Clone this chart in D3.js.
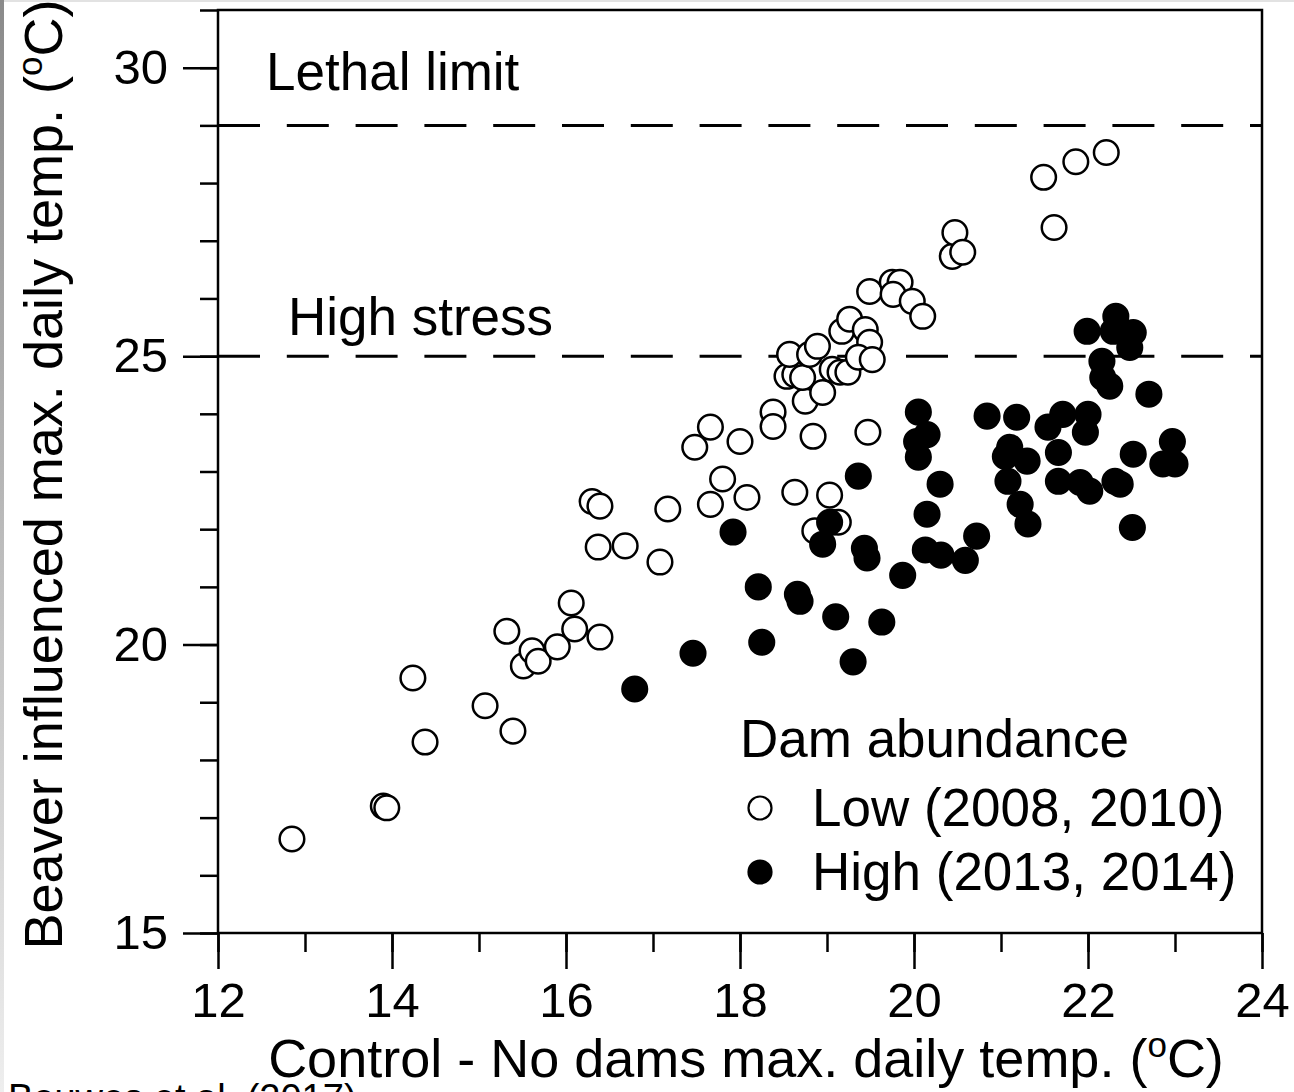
<!DOCTYPE html>
<html>
<head>
<meta charset="utf-8">
<script src="https://cdn.jsdelivr.net/npm/d3@7"></script>
<style>
  html, body { margin: 0; padding: 0; background: #fff; }
  svg { display: block; font-family: "Liberation Sans", Arial, Helvetica, sans-serif; }
</style>
</head>
<body>
<div id="chart"></div>
<script>
// Low dam abundance (2008, 2010): [control, beaver influenced]
const lowX = [12.85, 13.90, 13.94, 14.24, 14.38, 15.07, 15.39, 15.32, 15.51, 15.61, 15.68, 15.90, 16.06, 16.10, 16.39,
  16.30, 16.39, 16.37, 16.68, 17.08, 17.17, 17.48, 17.66, 17.66, 17.80, 18.00, 18.08, 18.38, 18.38, 18.84,
  18.63, 19.03, 18.86, 19.06, 19.13, 19.47, 18.75, 18.95, 18.54, 18.63, 18.72, 18.57, 18.80, 18.89, 19.06,
  19.15, 19.24, 19.17, 19.26, 19.44, 19.49, 19.36, 19.52, 19.49, 19.75, 19.84, 19.76, 19.98, 20.10, 20.44,
  20.47, 20.56, 21.49, 21.86, 22.21, 21.61];
const lowY = [16.63, 17.20, 17.17, 19.42, 18.31, 18.94, 18.50, 20.23, 19.63, 19.89, 19.71, 19.96, 20.72, 20.27, 20.13,
  22.48, 22.40, 21.69, 21.71, 21.43, 22.35, 23.42, 23.77, 22.43, 22.87, 23.52, 22.55, 24.03, 23.78, 23.61,
  22.64, 22.59, 21.97, 22.12, 22.12, 23.68, 24.22, 24.37, 24.65, 24.68, 24.63, 25.03, 25.03, 25.17, 24.77,
  24.72, 24.72, 25.43, 25.64, 25.46, 25.24, 24.98, 24.94, 26.12, 26.28, 26.28, 26.07, 25.95, 25.69, 26.73,
  27.14, 26.80, 28.10, 28.37, 28.53, 27.23];

// High dam abundance (2013, 2014)
const highX = [16.79, 17.46, 17.92, 18.21, 18.25, 18.66, 18.69, 19.10, 19.30, 19.63, 19.03, 18.95, 19.36, 19.43, 19.46,
  19.87, 20.05, 20.15, 20.03, 20.05, 20.30, 20.15, 20.13, 20.31, 20.59, 20.72, 20.84, 21.18, 21.54, 21.71,
  22.00, 21.97, 21.10, 21.05, 21.30, 21.08, 21.66, 21.22, 21.31, 21.66, 21.91, 22.02, 22.31, 22.37, 22.52,
  22.51, 22.97, 22.86, 23.00, 22.70, 21.99, 22.32, 22.29, 22.52, 22.48, 22.16, 22.17, 22.25];
const highY = [19.23, 19.85, 21.95, 21.00, 20.04, 20.87, 20.75, 20.48, 19.70, 20.39, 22.12, 21.74, 22.92, 21.67, 21.50,
  21.20, 24.03, 23.64, 23.52, 23.25, 22.78, 22.26, 21.64, 21.55, 21.46, 21.88, 23.96, 23.94, 23.77, 23.99,
  23.99, 23.68, 23.42, 23.26, 23.18, 22.83, 23.33, 22.43, 22.09, 22.83, 22.81, 22.66, 22.83, 22.78, 23.30,
  22.03, 23.52, 23.13, 23.13, 24.34, 25.43, 25.69, 25.43, 25.41, 25.15, 24.91, 24.63, 24.48];

const xMajor = [12, 14, 16, 18, 20, 22, 24];
const yMajor = [15, 20, 25, 30];
const thresholds = [29, 25];
const thresholdLabels = ["Lethal limit", "High stress"];
const legendLabels = ["Low (2008, 2010)", "High (2013, 2014)"];

const width = 1294, height = 1092;
const margin = {top: 10, right: 32, bottom: 159, left: 218};

const svg = d3.select("#chart").append("svg")
  .attr("width", width)
  .attr("height", height);

// screenshot edges
const grad = svg.append("defs").append("linearGradient")
  .attr("id", "edge").attr("x1", 0).attr("y1", 0).attr("x2", 0).attr("y2", 1);
grad.append("stop").attr("offset", "0%").attr("stop-color", "#8a8a8a");
grad.append("stop").attr("offset", "100%").attr("stop-color", "#eeeeee");
svg.append("rect").attr("x", 0).attr("y", 0).attr("width", width).attr("height", 2).attr("fill", "#e2e2e2");
svg.append("rect").attr("x", 0).attr("y", 0).attr("width", 4).attr("height", height).attr("fill", "url(#edge)");

const x = d3.scaleLinear().domain([12, 24]).range([margin.left, width - margin.right]);
const y = d3.scaleLinear().domain([15, 31]).range([height - margin.bottom, margin.top]);

const axisStroke = 2.5;

// y axis: minor then major
const yMinor = svg.append("g")
  .attr("transform", `translate(${x(12)},0)`)
  .call(d3.axisLeft(y).tickValues(d3.range(15, 32)).tickSize(18).tickFormat(""));
const yAx = svg.append("g")
  .attr("transform", `translate(${x(12)},0)`)
  .call(d3.axisLeft(y).tickValues(yMajor).tickSize(35).tickPadding(15));

// x axis
const xMinor = svg.append("g")
  .attr("transform", `translate(0,${y(15)})`)
  .call(d3.axisBottom(x).tickValues(d3.range(12, 25)).tickSize(19).tickFormat(""));
const xAx = svg.append("g")
  .attr("transform", `translate(0,${y(15)})`)
  .call(d3.axisBottom(x).tickValues(xMajor).tickSize(36).tickPadding(13));

[yMinor, yAx, xMinor, xAx].forEach(g => {
  g.select(".domain").remove();
  g.selectAll("line").attr("stroke", "#000").attr("stroke-width", axisStroke);
  g.selectAll("text").attr("fill", "#000").style("font-size", "49px")
    .style("font-family", "'Liberation Sans', Arial, sans-serif");
});

// frame
svg.append("rect")
  .attr("x", x(12)).attr("y", y(31))
  .attr("width", x(24) - x(12)).attr("height", y(15) - y(31))
  .attr("fill", "none").attr("stroke", "#000").attr("stroke-width", axisStroke);

// threshold lines
svg.selectAll(".thresh")
  .data(thresholds)
  .join("line")
  .attr("class", "thresh")
  .attr("x1", x(12)).attr("x2", x(24))
  .attr("y1", d => y(d)).attr("y2", d => y(d))
  .attr("stroke", "#000").attr("stroke-width", 3)
  .attr("stroke-dasharray", "42 26.8");

svg.selectAll(".thresh-label")
  .data(thresholdLabels)
  .join("text")
  .attr("class", "thresh-label")
  .attr("x", (d, i) => i === 0 ? 266 : 288)
  .attr("y", (d, i) => y(thresholds[i]) + (i === 0 ? -35 : -21))
  .style("font-size", "53px")
  .text(d => d);

// points
const low = lowX.map((d, i) => [d, lowY[i]]);
const high = highX.map((d, i) => [d, highY[i]]);
const r = 12.3;

svg.append("g").selectAll("circle")
  .data(low)
  .join("circle")
  .attr("cx", d => x(d[0]))
  .attr("cy", d => y(d[1]))
  .attr("r", r)
  .attr("fill", "#fff")
  .attr("stroke", "#000")
  .attr("stroke-width", 2.5);

svg.append("g").selectAll("circle")
  .data(high)
  .join("circle")
  .attr("cx", d => x(d[0]))
  .attr("cy", d => y(d[1]))
  .attr("r", r)
  .attr("fill", "#000")
  .attr("stroke", "#000")
  .attr("stroke-width", 2.5);

// legend
const legend = svg.append("g").attr("transform", "translate(740,757)");
legend.append("text").attr("x", 0).attr("y", 0).style("font-size", "53px").text("Dam abundance");
legendLabels.forEach((lab, i) => {
  const row = legend.append("g").attr("transform", `translate(0,${69 + i * 64})`);
  row.append("circle")
    .attr("cx", 20).attr("cy", -18).attr("r", 11.5)
    .attr("fill", i === 0 ? "#fff" : "#000")
    .attr("stroke", "#000").attr("stroke-width", 2.2);
  row.append("text").attr("x", 72).attr("y", 0).style("font-size", "53px").text(lab);
});

// axis titles
const xTitle = svg.append("text")
  .attr("x", (x(12) + x(24)) / 2 + 6)
  .attr("y", 1077)
  .attr("text-anchor", "middle")
  .style("font-size", "54px");
xTitle.append("tspan").text("Control - No dams max. daily temp. (");
xTitle.append("tspan").attr("dy", -20).style("font-size", "35px").text("o");
xTitle.append("tspan").attr("dy", 20).text("C)");

const yTitle = svg.append("text")
  .attr("transform", `translate(62,${(y(15) + y(31)) / 2 + 3}) rotate(-90)`)
  .attr("text-anchor", "middle")
  .style("font-size", "54px");
yTitle.append("tspan").text("Beaver influenced max. daily temp. (");
yTitle.append("tspan").attr("dy", -20).style("font-size", "35px").text("o");
yTitle.append("tspan").attr("dy", 20).text("C)");

// cut-off caption
svg.append("text")
  .attr("x", 8).attr("y", 1111)
  .style("font-size", "38px")
  .text("Bouwes et al. (2017)");
</script>
</body>
</html>
